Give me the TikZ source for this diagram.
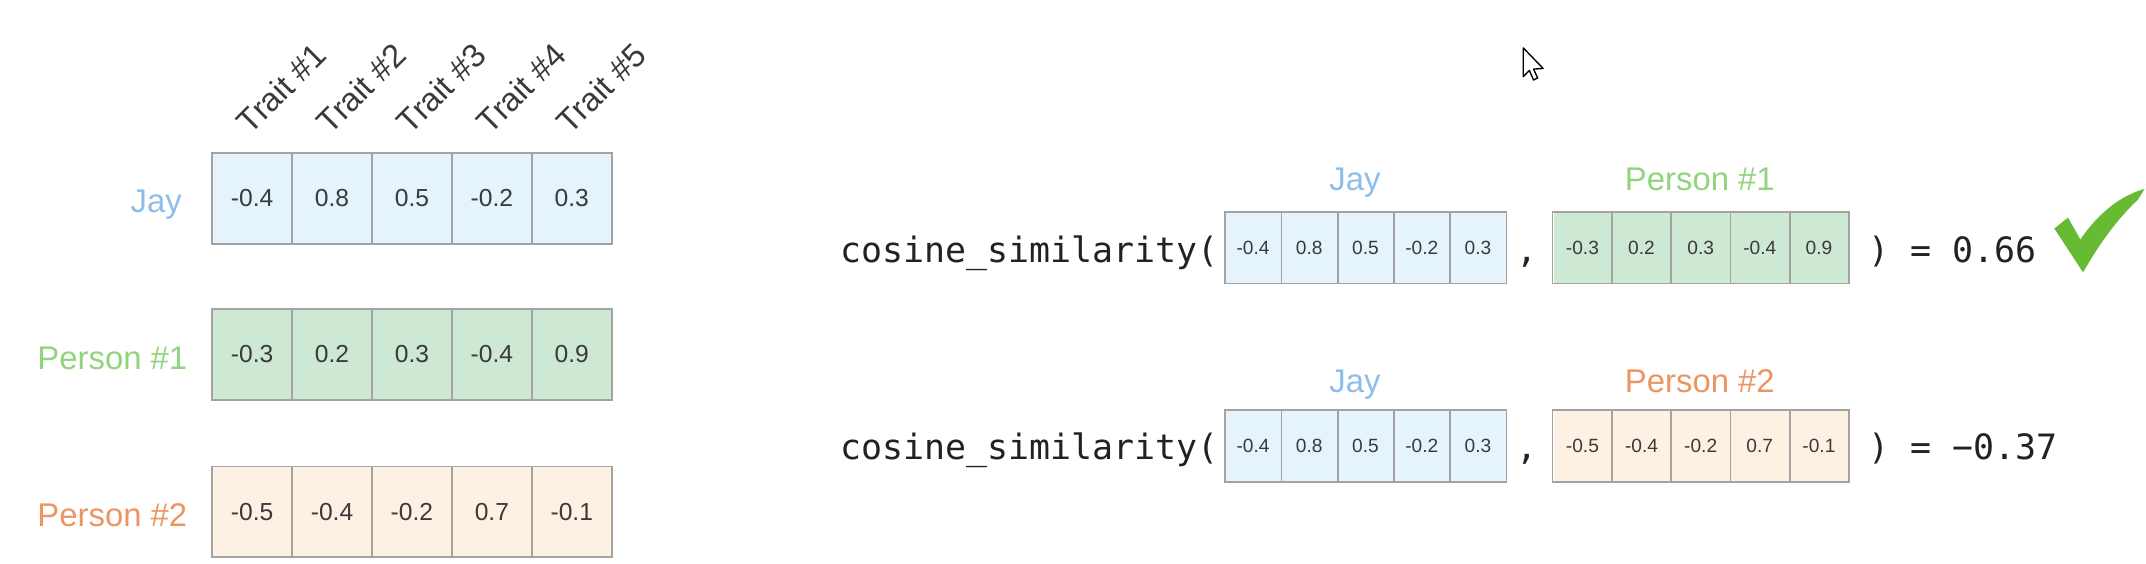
\documentclass[tikz,border=0pt]{standalone}
\usepackage{fontspec}
\setmainfont{Liberation Sans}
\setmonofont{DejaVu Sans Mono}
\definecolor{jaytext}{HTML}{8FBDEA}
\definecolor{jayfill}{HTML}{E4F3FC}
\definecolor{ponetext}{HTML}{92D37E}
\definecolor{ponefill}{HTML}{CDE8D3}
\definecolor{ptwotext}{HTML}{EC9562}
\definecolor{ptwofill}{HTML}{FDF1E3}
\definecolor{cellborder}{HTML}{A3A3A3}
\definecolor{numtext}{HTML}{3A3A3A}
\definecolor{monotext}{HTML}{222222}
\definecolor{checkgreen}{HTML}{66BB33}
% #1 name prefix, #2 left x, #3 cell width, #4 centre y, #5 style, #6 fill, #7 values
\newcommand\vecrow[7]{%
  \foreach \v [count=\i] in {#7}
    \node[#5, fill=#6, minimum width={(#3-1)*1pt}] (#1\i) at ({#2+#3*(\i-0.5)},#4) {\v};
  \draw[frame] ([xshift=-0.5pt]#11.north west) rectangle ([xshift=0.5pt]#15.south east);
  \foreach \j in {1,...,4}
    \draw[frame] ([xshift=0.5pt]#1\j.north east) -- ([xshift=0.5pt]#1\j.south east);}
\begin{document}
\begin{tikzpicture}[x=1pt,y=-1pt,
  frame/.style={draw=cellborder, line width=1.3pt},
  cellL/.style={minimum height=66pt, inner sep=0pt,
    font=\fontsize{18}{18}\selectfont, text=numtext},
  cellS/.style={minimum height=52pt, inner sep=0pt,
    font=\fontsize{14}{14}\selectfont, text=numtext},
  lbl/.style={inner sep=0pt, font=\fontsize{24}{24}\selectfont},
  trait/.style={inner sep=0pt, rotate=45, anchor=base west, text=numtext,
    font=\fontsize{24}{24}\selectfont},
  mono/.style={inner sep=0pt, anchor=base west, text=monotext,
    font=\ttfamily\fontsize{25.5}{25.5}\selectfont}]
\useasboundingbox (0,0) rectangle (1568,412);

% ---- left table ----
\foreach \k in {1,...,5}
  \node[trait] (trait\k) at ({155+58.4*(\k-0.5)-1},99) {Trait \#\k};

\vecrow{jay}{155}{58.4}{145}{cellL}{jayfill}{-0.4,0.8,0.5,-0.2,0.3}
\vecrow{pone}{155}{58.4}{259}{cellL}{ponefill}{-0.3,0.2,0.3,-0.4,0.9}
\vecrow{ptwo}{155}{58.4}{374}{cellL}{ptwofill}{-0.5,-0.4,-0.2,0.7,-0.1}

\node[lbl, anchor=base east, text=jaytext] (ljay) at (133,155) {Jay};
\node[lbl, anchor=base east, text=ponetext] (lpone) at (137,270) {Person \#1};
\node[lbl, anchor=base east, text=ptwotext] (lptwo) at (137,385) {Person \#2};

% ---- right: first comparison ----
\node[mono] (cosa) at (614,192) {cosine\_similarity(};
\vecrow{ja}{895}{41.1}{181}{cellS}{jayfill}{-0.4,0.8,0.5,-0.2,0.3}
\node[mono] (comma) at (1108,192) {,};
\vecrow{pa}{1134.6}{43.2}{181}{cellS}{ponefill}{-0.3,0.2,0.3,-0.4,0.9}
\node[mono] (resa) at (1365,192) {) = 0.66};
\node[lbl, anchor=base, text=jaytext] (tja) at (990,139) {Jay};
\node[lbl, anchor=base, text=ponetext] (tpa) at (1242,139) {Person \#1};

% check mark
\fill[checkgreen] (1501,167) -- (1511,159) -- (1520,175)
  .. controls (1533,156) and (1549,143) .. (1567,138)
  -- (1562,146) .. controls (1547,160) and (1534,178) .. (1522,199) -- cycle;

% ---- right: second comparison ----
\node[mono] (cosb) at (614,336) {cosine\_similarity(};
\vecrow{jb}{895}{41.1}{326}{cellS}{jayfill}{-0.4,0.8,0.5,-0.2,0.3}
\node[mono] (commb) at (1108,336) {,};
\vecrow{pb}{1134.6}{43.2}{326}{cellS}{ptwofill}{-0.5,-0.4,-0.2,0.7,-0.1}
\node[mono] (resb) at (1365,336) {) = −0.37};
\node[lbl, anchor=base, text=jaytext] (tjb) at (990,287) {Jay};
\node[lbl, anchor=base, text=ptwotext] (tpb) at (1242,287) {Person \#2};

% mouse cursor
\filldraw[fill=white, draw=black, line width=1pt, line join=round]
  (1113,35) -- (1113,56) -- (1117.5,51.5) -- (1120.5,58.5) -- (1123.5,57)
  -- (1120.5,50.5) -- (1127.5,50) -- cycle;
\end{tikzpicture}
\end{document}
